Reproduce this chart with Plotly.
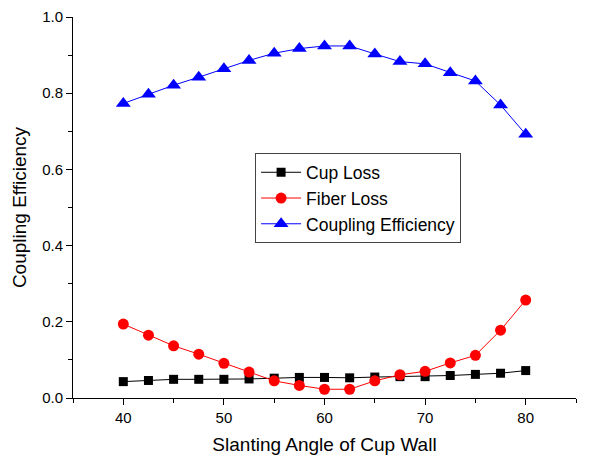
import plotly.graph_objects as go

angles = [40, 42.5, 45, 47.5, 50, 52.5, 55, 57.5, 60, 62.5, 65, 67.5, 70, 72.5, 75, 77.5, 80]
cup_loss = [0.043, 0.046, 0.049, 0.049, 0.049, 0.050, 0.052, 0.054, 0.054, 0.053, 0.055, 0.056, 0.056, 0.059, 0.062, 0.065, 0.072]
fiber_loss = [0.194, 0.165, 0.137, 0.115, 0.091, 0.068, 0.045, 0.033, 0.023, 0.023, 0.045, 0.061, 0.070, 0.092, 0.112, 0.178, 0.257]
coupling_eff = [0.773, 0.797, 0.821, 0.842, 0.864, 0.886, 0.905, 0.917, 0.924, 0.924, 0.903, 0.883, 0.877, 0.854, 0.832, 0.769, 0.692]

font = "Liberation Sans, Arial, sans-serif"

fig = go.Figure()
fig.add_trace(go.Scatter(x=angles, y=cup_loss, mode="lines+markers", name="Cup Loss",
                         line=dict(color="black", width=1),
                         marker=dict(symbol="square", size=9, color="black")))
fig.add_trace(go.Scatter(x=angles, y=fiber_loss, mode="lines+markers", name="Fiber Loss",
                         line=dict(color="red", width=1),
                         marker=dict(symbol="circle", size=11, color="red")))
fig.add_trace(go.Scatter(x=angles, y=coupling_eff, mode="lines+markers", name="Coupling Efficiency",
                         line=dict(color="blue", width=1),
                         marker=dict(symbol="triangle-up", size=13, color="blue")))

# page body adds an 8px offset; figure sized to fit the window
fig.update_layout(
    width=586, height=448,
    margin=dict(l=65, r=18, t=9, b=58, autoexpand=False),
    paper_bgcolor="white", plot_bgcolor="white",
    font=dict(family=font, size=13, color="black"),
    legend=dict(x=0.362, y=0.642, xanchor="left", yanchor="top",
                bordercolor="#444", borderwidth=1, bgcolor="white",
                font=dict(size=17.5, family=font), tracegroupgap=0,
                itemwidth=40),
    xaxis=dict(range=[35, 85], tickvals=[40, 50, 60, 70, 80], showgrid=False, zeroline=False,
               automargin=False,
               showline=True, linecolor="black", linewidth=1,
               ticks="outside", ticklen=6, tickcolor="black",
               minor=dict(dtick=5, tick0=35, ticks="outside", ticklen=4, tickcolor="black"),
               title=dict(text="Slanting Angle of Cup Wall", font=dict(size=19, family=font), standoff=12),
               tickfont=dict(size=15, family=font)),
    yaxis=dict(range=[0, 1], dtick=0.2, tickformat=".1f", showgrid=False, zeroline=False,
               automargin=False,
               showline=True, linecolor="black", linewidth=1,
               ticks="outside", ticklen=6, tickcolor="black",
               minor=dict(dtick=0.1, ticks="outside", ticklen=4, tickcolor="black"),
               title=dict(text="Coupling Efficiency", font=dict(size=19, family=font), standoff=10),
               tickfont=dict(size=15, family=font)),
)

fig.write_html("out.html")
